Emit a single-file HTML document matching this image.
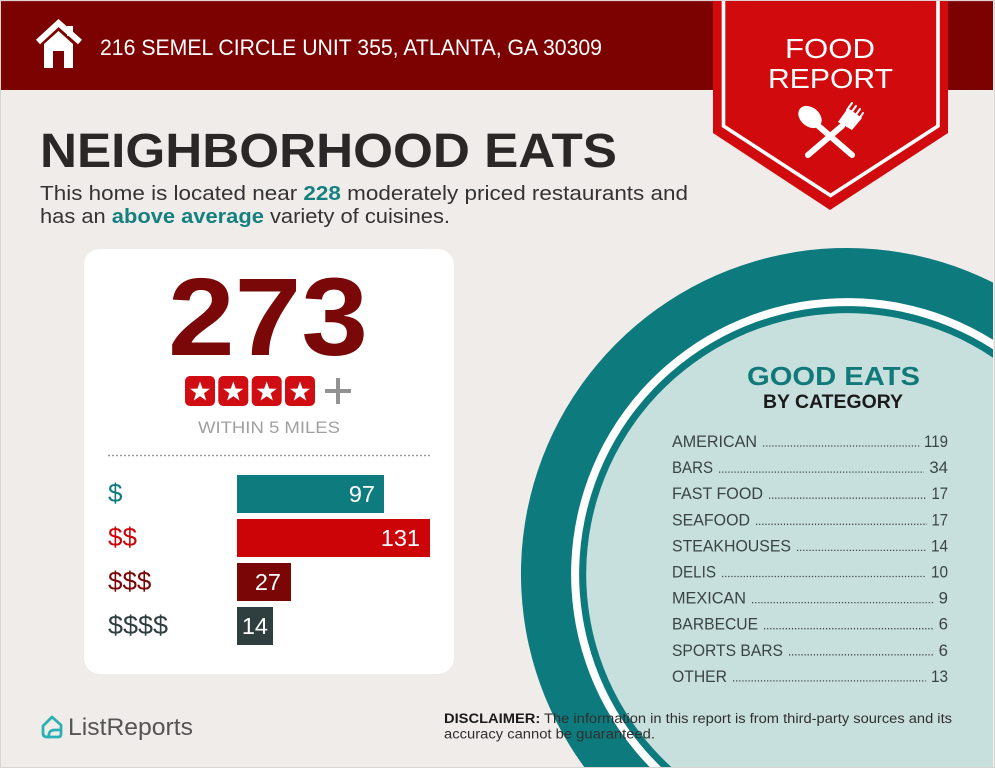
<!DOCTYPE html>
<html><head><meta charset="utf-8"><style>
html,body{margin:0;padding:0;background:#f0ecea;width:995px;height:768px;overflow:hidden;}
svg{display:block;position:absolute;left:0;top:0;}
text{font-family:"Liberation Sans",Arial,sans-serif;}
</style></head><body>
<svg width="995" height="768" viewBox="0 0 995 768" xmlns="http://www.w3.org/2000/svg">
<defs>
<g id="star"><polygon fill="#fff" points="0,-10.5 2.5,-3.4 10,-3.3 4,1.3 6.2,8.5 0,4.2 -6.2,8.5 -4,1.3 -10,-3.3 -2.5,-3.4"/></g>
</defs>
<rect width="995" height="768" fill="#f0ecea"/>
<!-- header -->
<rect x="0" y="0" width="995" height="90" fill="#7c0202"/>
<rect x="0" y="0" width="995" height="1.5" fill="#a03535"/>
<!-- house icon -->
<g fill="#fff">
<rect x="67" y="26" width="6" height="10"/>
<polyline points="38,42 58.5,23 80,42" fill="none" stroke="#fff" stroke-width="6" stroke-linejoin="miter"/>
<path d="M44,44 L58.5,31 L73,44 L73,68 L64,68 L64,51 L53,51 L53,68 L44,68 Z"/>
</g>
<text x="100" y="55" font-size="22.5" fill="#fff" textLength="502" lengthAdjust="spacingAndGlyphs">216 SEMEL CIRCLE UNIT 355, ATLANTA, GA 30309</text>
<!-- banner -->
<polygon points="713,0 948,0 948,133 830,210 713,133" fill="#d10a0d"/>
<polyline points="723.5,0 723.5,126 830.5,195.5 938,126 938,0" fill="none" stroke="#fff" stroke-width="3.6"/>
<text x="830" y="58" font-size="28" fill="#fff" text-anchor="middle" textLength="90" lengthAdjust="spacingAndGlyphs">FOOD</text>
<text x="830.5" y="88" font-size="28" fill="#fff" text-anchor="middle" textLength="125" lengthAdjust="spacingAndGlyphs">REPORT</text>
<!-- spoon & fork -->
<g fill="#fff" stroke="#fff" stroke-linecap="round">
<line x1="815" y1="123" x2="852" y2="155" stroke-width="6"/>
<ellipse cx="810" cy="117" rx="13" ry="9.5" transform="rotate(40 810 117)" stroke="none"/>
<line x1="842" y1="126" x2="808" y2="155" stroke-width="6"/>
<path d="M838,122 L848,108 L862,118 L852,130 Z" stroke="none"/>
<line x1="847" y1="110" x2="852" y2="103" stroke-width="2"/>
<line x1="851" y1="113" x2="856" y2="106" stroke-width="2"/>
<line x1="855" y1="116" x2="860" y2="109" stroke-width="2"/>
<line x1="859" y1="119" x2="863" y2="113" stroke-width="2"/>
</g>
<!-- title -->
<text x="40" y="167" font-size="48.5" font-weight="bold" fill="#2b2727" textLength="577" lengthAdjust="spacingAndGlyphs">NEIGHBORHOOD EATS</text>
<text x="40" y="200" font-size="20.5" fill="#333" textLength="648" lengthAdjust="spacingAndGlyphs">This home is located near <tspan font-weight="bold" fill="#14807f">228</tspan> moderately priced restaurants and</text>
<text x="40" y="223" font-size="20.5" fill="#333" textLength="410" lengthAdjust="spacingAndGlyphs">has an <tspan font-weight="bold" fill="#14807f">above average</tspan> variety of cuisines.</text>
<!-- card -->
<rect x="84" y="249" width="370" height="425" rx="16" fill="#fff"/>
<text x="168" y="355" font-size="110" font-weight="bold" fill="#7a0808" textLength="200" lengthAdjust="spacingAndGlyphs">273</text>
<g>
<rect x="185" y="376" width="30" height="30" rx="5" fill="#d00d12"/>
<rect x="218.3" y="376" width="30" height="30" rx="5" fill="#d00d12"/>
<rect x="251.7" y="376" width="30" height="30" rx="5" fill="#d00d12"/>
<rect x="285" y="376" width="30" height="30" rx="5" fill="#d00d12"/>
<use href="#star" x="200" y="392"/>
<use href="#star" x="233.3" y="392"/>
<use href="#star" x="266.7" y="392"/>
<use href="#star" x="300" y="392"/>
</g>
<g stroke="#929292" stroke-width="4"><line x1="325" y1="391" x2="351" y2="391"/><line x1="338" y1="378" x2="338" y2="404"/></g>
<text x="198" y="433" font-size="17" fill="#a0a0a0" textLength="142" lengthAdjust="spacingAndGlyphs">WITHIN 5 MILES</text>
<line x1="108" y1="455.5" x2="430" y2="455.5" stroke="#9a9a9a" stroke-width="1.5" stroke-dasharray="2 2"/>
<!-- bars -->
<rect x="237" y="475" width="147" height="38" fill="#0e7b7e"/>
<rect x="237" y="519" width="193" height="38" fill="#cc0407"/>
<rect x="237" y="563" width="54" height="38" fill="#7a0606"/>
<rect x="237" y="607" width="36" height="38" fill="#2f3e3f"/>
<g font-size="23.5" fill="#fff" text-anchor="end">
<text x="375" y="502">97</text>
<text x="420" y="546">131</text>
<text x="281" y="590">27</text>
<text x="268" y="634">14</text>
</g>
<g font-size="26">
<text x="108" y="502" fill="#0e7b7e">$</text>
<text x="108" y="546" fill="#cc0407">$$</text>
<text x="108" y="590" fill="#7a0606">$$$</text>
<text x="108" y="634" fill="#2f3e3f" textLength="60" lengthAdjust="spacingAndGlyphs">$$$$</text>
</g>
<!-- circle rings (paths clipped to frame) -->
<path d="M585,768 A326,326 0 0 1 993,282.5 L993,768 Z" fill="#0d7a7d"/>
<path d="M650.7,768 A276,276 0 0 1 993,339.8 L993,768 Z" fill="#ffffff"/>
<path d="M662.1,768 A268,268 0 0 1 993,349.3 L993,768 Z" fill="#0d7a7d"/>
<path d="M672.4,768 A261,261 0 0 1 993,357.7 L993,768 Z" fill="#c8e0dd"/>
<rect x="993" y="0" width="2" height="768" fill="#f4f2f0"/>
<text x="833.5" y="385" font-size="26" font-weight="bold" fill="#12797b" text-anchor="middle" textLength="173" lengthAdjust="spacingAndGlyphs">GOOD EATS</text>
<text x="833" y="408" font-size="19" font-weight="bold" fill="#1a1a1a" text-anchor="middle" textLength="140" lengthAdjust="spacingAndGlyphs">BY CATEGORY</text>
<g font-size="16.8" fill="#3a4444">
<text x="672" y="447" textLength="85" lengthAdjust="spacingAndGlyphs">AMERICAN</text>
<text x="672" y="473.1" textLength="41" lengthAdjust="spacingAndGlyphs">BARS</text>
<text x="672" y="499.2" textLength="91" lengthAdjust="spacingAndGlyphs">FAST FOOD</text>
<text x="672" y="525.3" textLength="78" lengthAdjust="spacingAndGlyphs">SEAFOOD</text>
<text x="672" y="551.4" textLength="119" lengthAdjust="spacingAndGlyphs">STEAKHOUSES</text>
<text x="672" y="577.5" textLength="44" lengthAdjust="spacingAndGlyphs">DELIS</text>
<text x="672" y="603.6" textLength="74" lengthAdjust="spacingAndGlyphs">MEXICAN</text>
<text x="672" y="629.7" textLength="86" lengthAdjust="spacingAndGlyphs">BARBECUE</text>
<text x="672" y="655.8" textLength="111" lengthAdjust="spacingAndGlyphs">SPORTS BARS</text>
<text x="672" y="681.9" textLength="55" lengthAdjust="spacingAndGlyphs">OTHER</text>
</g>
<g font-size="16.8" fill="#3a4444" text-anchor="end">
<text x="948" y="447" textLength="24" lengthAdjust="spacingAndGlyphs">119</text>
<text x="948" y="473.1">34</text>
<text x="948" y="499.2" textLength="16.5" lengthAdjust="spacingAndGlyphs">17</text>
<text x="948" y="525.3" textLength="16.5" lengthAdjust="spacingAndGlyphs">17</text>
<text x="948" y="551.4" textLength="17" lengthAdjust="spacingAndGlyphs">14</text>
<text x="948" y="577.5" textLength="17" lengthAdjust="spacingAndGlyphs">10</text>
<text x="948" y="603.6">9</text>
<text x="948" y="629.7">6</text>
<text x="948" y="655.8">6</text>
<text x="948" y="681.9" textLength="17" lengthAdjust="spacingAndGlyphs">13</text>
</g>
<g stroke="#3a4444" stroke-width="1.3" stroke-dasharray="1.2 1.9">
<line x1="763" y1="446" x2="920" y2="446"/>
<line x1="719" y1="472.1" x2="924" y2="472.1"/>
<line x1="769" y1="498.2" x2="927" y2="498.2"/>
<line x1="756" y1="524.3" x2="927" y2="524.3"/>
<line x1="797" y1="550.4" x2="926" y2="550.4"/>
<line x1="722" y1="576.5" x2="926" y2="576.5"/>
<line x1="752" y1="602.6" x2="934" y2="602.6"/>
<line x1="764" y1="628.7" x2="934" y2="628.7"/>
<line x1="789" y1="654.8" x2="934" y2="654.8"/>
<line x1="733" y1="680.9" x2="926" y2="680.9"/>
</g>
<!-- footer -->
<g fill="none" stroke="#2bb0b3" stroke-width="2.8" stroke-linejoin="round" stroke-linecap="round">
<path d="M43,726 L52,717 L61,725 L61,734 Q61,737 58,737 L47,737 Q43,737 43,733 Z"/>
<path d="M49,737 Q48,730 55,730 L61,730"/>
</g>
<text x="68" y="735" font-size="24" fill="#555" textLength="125" lengthAdjust="spacingAndGlyphs">ListReports</text>
<text x="444" y="723" font-size="13.5" fill="#2f2f2f" textLength="508" lengthAdjust="spacingAndGlyphs"><tspan font-weight="bold" fill="#1a1a1a">DISCLAIMER:</tspan> The information in this report is from third-party sources and its</text>
<text x="444" y="738.5" font-size="13.5" fill="#2f2f2f" textLength="211" lengthAdjust="spacingAndGlyphs">accuracy cannot be guaranteed.</text>
<rect x="0.5" y="0.5" width="994" height="767" fill="none" stroke="#d8d4d2" stroke-width="1"/>
</svg>
</body></html>
